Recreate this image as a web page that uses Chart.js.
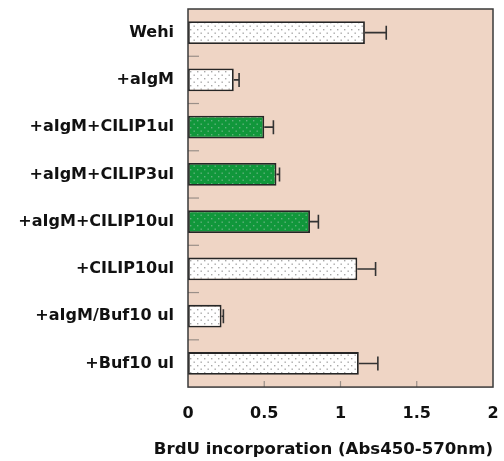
<!DOCTYPE html>
<html>
<head>
<meta charset="utf-8">
<script src="https://cdn.jsdelivr.net/npm/chart.js@4"></script>
<style>
  html, body { margin: 0; padding: 0; background: #ffffff; }
  #wrap { width: 504px; height: 461px; }
</style>
</head>
<body>
<div id="wrap"><canvas id="brduChart"></canvas></div>
<script>
// data
const categories = ['Wehi', '+aIgM', '+aIgM+CILIP1ul', '+aIgM+CILIP3ul', '+aIgM+CILIP10ul', '+CILIP10ul', '+aIgM/Buf10 ul', '+Buf10 ul'];
const means = [1.16, 0.30, 0.50, 0.58, 0.80, 1.11, 0.22, 1.12];
const errors = [0.14, 0.035, 0.06, 0.02, 0.055, 0.12, 0.012, 0.125];
const isTreated = [false, false, true, true, true, false, false, false];
const xTicks = [0, 0.5, 1, 1.5, 2];

// dotted fill like the original hatch
function dotPattern(bg, dot) {
    const c = document.createElement('canvas');
    c.width = 7; c.height = 7;
    const g = c.getContext('2d');
    g.fillStyle = bg;
    g.fillRect(0, 0, 7, 7);
    g.fillStyle = dot;
    g.fillRect(1, 1, 1.4, 1.4);
    g.fillRect(4.5, 4.5, 1.4, 1.4);
    return document.createElement('canvas').getContext('2d').createPattern(c, 'repeat');
}
const whiteFill = dotPattern('#ffffff', '#a8a8a8');
const greenFill = dotPattern('#11973b', '#62b27d');

// peach background, frame, inner ticks, error bars
const decorPlugin = {
    id: 'decor',
    beforeDraw(chart) {
        const { ctx, chartArea: a } = chart;
        ctx.save();
        ctx.fillStyle = '#efd5c5';
        ctx.fillRect(a.left, a.top, a.right - a.left, a.bottom - a.top);
        ctx.restore();
    },
    afterDatasetsDraw(chart) {
        const { ctx, chartArea: a, scales } = chart;
        const xs = scales.x, ys = scales.y;
        ctx.save();
        // error bars (one-sided)
        ctx.strokeStyle = '#333333';
        ctx.lineWidth = 1.6;
        means.forEach((m, i) => {
            const y = ys.getPixelForValue(i);
            const x0 = xs.getPixelForValue(m);
            const x1 = xs.getPixelForValue(m + errors[i]);
            ctx.beginPath();
            ctx.moveTo(x0, y); ctx.lineTo(x1, y);
            ctx.moveTo(x1, y - 7); ctx.lineTo(x1, y + 7);
            ctx.stroke();
        });
        // category boundary ticks on the left
        ctx.strokeStyle = '#9a8f88';
        ctx.lineWidth = 1.2;
        for (let i = 0; i < categories.length - 1; i++) {
            const y = ys.getPixelForValue(i + 0.5);
            ctx.beginPath();
            ctx.moveTo(a.left, y); ctx.lineTo(a.left + 11, y);
            ctx.stroke();
        }
        // x ticks pointing up from bottom
        xTicks.slice(1, -1).forEach(v => {
            const x = xs.getPixelForValue(v);
            ctx.beginPath();
            ctx.moveTo(x, a.bottom); ctx.lineTo(x, a.bottom - 6);
            ctx.stroke();
        });
        // frame
        ctx.strokeStyle = '#3a3a3a';
        ctx.lineWidth = 1.5;
        ctx.strokeRect(a.left, a.top, a.right - a.left, a.bottom - a.top);
        ctx.restore();
    }
};

const ctx = document.getElementById('brduChart').getContext('2d');
new Chart(ctx, {
    type: 'bar',
    data: {
        labels: categories,
        datasets: [{
            data: means,
            backgroundColor: isTreated.map(t => t ? greenFill : whiteFill),
            borderColor: '#262626',
            borderWidth: 1.8,
            borderSkipped: false,
            categoryPercentage: 1,
            barPercentage: 0.48
        }]
    },
    options: {
        indexAxis: 'y',
        responsive: true,
        maintainAspectRatio: false,
        animation: false,
        layout: { padding: { top: 9, right: 11, left: 0, bottom: 0 } },
        plugins: {
            legend: { display: false },
            tooltip: { enabled: false },
            // axis title is wider than the plot, so use the chart title box at the bottom
            title: {
                display: true,
                position: 'bottom',
                align: 'end',
                text: 'BrdU incorporation (Abs450-570nm)',
                color: '#111111',
                padding: { top: 0, bottom: 1 },
                font: { family: 'DejaVu Sans', size: 16.6, weight: 'bold' }
            }
        },
        scales: {
            x: {
                min: 0,
                max: 2,
                afterBuildTicks: s => { s.ticks = xTicks.map(v => ({ value: v })); },
                afterFit: s => { s.height = 53; s.paddingLeft = 0; s.paddingRight = 0; },
                grid: { display: false, drawTicks: false },
                border: { display: false },
                ticks: {
                    padding: 17,
                    color: '#111111',
                    font: { family: 'DejaVu Sans', size: 16, weight: 'bold' },
                    callback: v => String(v)
                }
            },
            y: {
                afterFit: s => { s.width = 188; s.paddingTop = 0; s.paddingBottom = 0; },
                grid: { display: false, drawTicks: false },
                border: { display: false },
                ticks: {
                    padding: 14,
                    color: '#111111',
                    font: { family: 'DejaVu Sans', size: 16, weight: 'bold' }
                }
            }
        }
    },
    plugins: [decorPlugin]
});
</script>
</body>
</html>
